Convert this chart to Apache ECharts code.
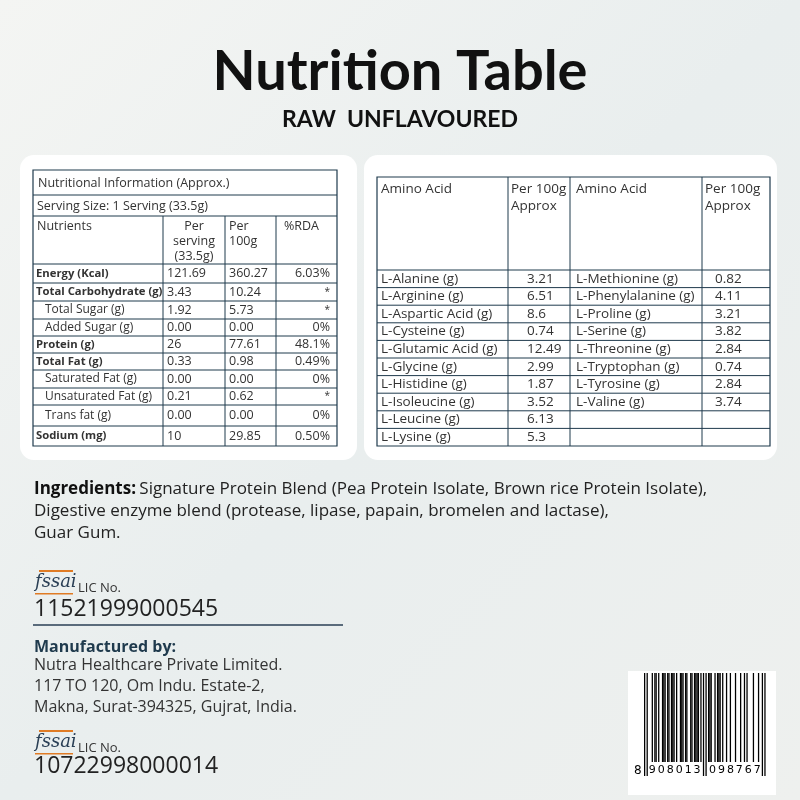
<!DOCTYPE html>
<html>
<head>
<meta charset="utf-8">
<script src="https://cdn.jsdelivr.net/npm/echarts@6/dist/echarts.min.js"></script>
<style>html,body{margin:0;padding:0;}#main{width:800px;height:800px;}</style>
</head>
<body>
<div id="main"></div>
<script>
var nutrients = ['Energy (Kcal)', 'Total Carbohydrate (g)', 'Total Sugar (g)', 'Added Sugar (g)', 'Protein (g)', 'Total Fat (g)', 'Saturated Fat (g)', 'Unsaturated Fat (g)', 'Trans fat (g)', 'Sodium (mg)'];
var boldRows = [true, true, false, false, true, true, false, false, false, true];
var perServing = ['121.69', '3.43', '1.92', '0.00', '26', '0.33', '0.00', '0.21', '0.00', '10'];
var per100g = ['360.27', '10.24', '5.73', '0.00', '77.61', '0.98', '0.00', '0.62', '0.00', '29.85'];
var rda = ['6.03%', '*', '*', '0%', '48.1%', '0.49%', '0%', '*', '0%', '0.50%'];

var aminoLeft = ['L-Alanine (g)', 'L-Arginine (g)', 'L-Aspartic Acid (g)', 'L-Cysteine (g)', 'L-Glutamic Acid (g)', 'L-Glycine (g)', 'L-Histidine (g)', 'L-Isoleucine (g)', 'L-Leucine (g)', 'L-Lysine (g)'];
var aminoLeftVal = ['3.21', '6.51', '8.6', '0.74', '12.49', '2.99', '1.87', '3.52', '6.13', '5.3'];
var aminoRight = ['L-Methionine (g)', 'L-Phenylalanine (g)', 'L-Proline (g)', 'L-Serine (g)', 'L-Threonine (g)', 'L-Tryptophan (g)', 'L-Tyrosine (g)', 'L-Valine (g)', '', ''];
var aminoRightVal = ['0.82', '4.11', '3.21', '3.82', '2.84', '0.74', '2.84', '3.74', '', ''];

var barcodeDigits = '8908013098767';

var FONT = 'Open Sans';
var INK = '#1f3a4d';
var g = [];

function txt(x, y, s, size, opt) {
	opt = opt || {};
	g.push({
		type: 'text', x: x, y: y,
		style: {
			text: s, fill: opt.fill || '#222', fontSize: size, fontFamily: opt.font || FONT,
			fontWeight: opt.weight || 'normal', fontStyle: opt.style || 'normal',
			align: opt.align || 'left', verticalAlign: opt.va || 'top',
			lineHeight: opt.lh || size * 1.2
		}
	});
}
function line(x1, y1, x2, y2, w, c) {
	g.push({ type: 'line', shape: { x1: x1, y1: y1, x2: x2, y2: y2 }, style: { stroke: c || INK, lineWidth: w || 1 } });
}

// background + cards
g.push({ type: 'rect', shape: { x: 0, y: 0, width: 800, height: 800 }, style: { fill: new echarts.graphic.LinearGradient(0, 0, 1, 1, [{ offset: 0, color: '#f4f5f3' }, { offset: 0.5, color: '#e9eeee' }, { offset: 1, color: '#eef0ee' }]) } });
g.push({ type: 'rect', shape: { x: 20, y: 155, width: 337, height: 305, r: 14 }, style: { fill: '#fff' } });
g.push({ type: 'rect', shape: { x: 364, y: 155, width: 413, height: 305, r: 14 }, style: { fill: '#fff' } });

txt(400, 38, 'Nutrition Table', 56, { align: 'center', weight: 'bold', fill: '#111', font: 'Lato' });
txt(400, 106, 'RAW  UNFLAVOURED', 23, { align: 'center', weight: 'bold', fill: '#111', font: 'Lato' });

// left table
var L = [33, 163, 225, 276, 337];
var rowY = [264, 283, 301, 319, 336, 353, 370, 388, 405, 426, 446];
g.push({ type: 'rect', shape: { x: 33, y: 170, width: 304, height: 276 }, style: { fill: 'none', stroke: INK, lineWidth: 1.2 } });
line(33, 195, 337, 195); line(33, 216, 337, 216);
rowY.slice(0, -1).forEach(function (y) { line(33, y, 337, y); });
[1, 2, 3].forEach(function (i) { line(L[i], 216, L[i], 446); });
txt(38, 183, 'Nutritional Information (Approx.)', 12.5, { va: 'middle', fill: '#333' });
txt(37, 206, 'Serving Size: 1 Serving (33.5g)', 12.5, { va: 'middle', fill: '#333' });
txt(37, 219, 'Nutrients', 12.5, { fill: '#333' });
txt(194, 219, 'Per\nserving\n(33.5g)', 12.5, { align: 'center', fill: '#333', lh: 15 });
txt(229, 219, 'Per\n100g', 12.5, { fill: '#333', lh: 15 });
txt(284, 219, '%RDA', 12.5, { fill: '#333' });
nutrients.forEach(function (n, i) {
	var cy = (rowY[i] + rowY[i + 1]) / 2;
	var b = boldRows[i];
	txt(b ? 36 : 45, cy, n, b ? 11.3 : 12, { va: 'middle', weight: b ? 'bold' : 'normal', fill: '#333' });
	txt(167, cy, perServing[i], 12.5, { va: 'middle', fill: '#333' });
	txt(229, cy, per100g[i], 12.5, { va: 'middle', fill: '#333' });
	txt(330, cy, rda[i], rda[i] === '*' ? 10 : 12.5, { va: 'middle', align: 'right', fill: '#333' });
});

// right table
var R = [377, 508, 570, 702, 770];
var tblTop = 177, hdr = 270, bot = 446, rh = (bot - hdr) / aminoLeft.length;
g.push({ type: 'rect', shape: { x: 377, y: tblTop, width: 393, height: bot - tblTop }, style: { fill: 'none', stroke: INK, lineWidth: 1.2 } });
[1, 2, 3].forEach(function (i) { line(R[i], tblTop, R[i], bot); });
for (var k = 0; k < aminoLeft.length; k++) line(377, hdr + k * rh, 770, hdr + k * rh);
txt(381, 181, 'Amino Acid', 13.5, { fill: '#333' });
txt(511, 181, 'Per 100g\nApprox', 13.5, { fill: '#333', lh: 17 });
txt(576, 181, 'Amino Acid', 13.5, { fill: '#333' });
txt(705, 181, 'Per 100g\nApprox', 13.5, { fill: '#333', lh: 17 });
aminoLeft.forEach(function (n, i) {
	var cy = hdr + (i + 0.5) * rh;
	txt(381, cy, n, 13.5, { va: 'middle', fill: '#333' });
	txt(527, cy, aminoLeftVal[i], 13.5, { va: 'middle', fill: '#333' });
	txt(576, cy, aminoRight[i], 13.5, { va: 'middle', fill: '#333' });
	txt(715, cy, aminoRightVal[i], 13.5, { va: 'middle', fill: '#333' });
});

// ingredients
g.push({
	type: 'text', x: 34, y: 478,
	style: {
		rich: { b: { fontWeight: 'bold', fontSize: 17, fontFamily: FONT, fill: '#111' }, n: { fontSize: 17, fontFamily: FONT, fill: '#222' } },
		text: '{b|Ingredients:} {n|Signature Protein Blend (Pea Protein Isolate, Brown rice Protein Isolate),}\n{n|Digestive enzyme blend (protease, lipase, papain, bromelen and lactase),}\n{n|Guar Gum.}',
		lineHeight: 22
	}
});

function fssai(x, y) {
	txt(x, y, 'fssai', 18, { font: 'DejaVu Serif', style: 'italic', fill: '#2a3f55' });
	g.push({ type: 'rect', shape: { x: x + 4, y: y - 2, width: 34, height: 2 }, style: { fill: '#e07b24' } });
	g.push({ type: 'rect', shape: { x: x, y: y + 21, width: 38, height: 1.5 }, style: { fill: '#e07b24' } });
	txt(x + 43, y + 8, 'LIC No.', 13, { fill: '#333' });
}
fssai(35, 572);
txt(34, 596, '11521999000545', 23, { fill: '#222' });
line(33, 625, 343, 625, 1.5, '#2a3f55');
txt(34, 638, 'Manufactured by:', 16, { weight: 'bold', fill: '#1f3a4d' });
txt(34, 655, 'Nutra Healthcare Private Limited.\n117 TO 120, Om Indu. Estate-2,\nMakna, Surat-394325, Gujrat, India.', 16, { fill: '#333', lh: 21 });
fssai(35, 732);
txt(34, 753, '10722998000014', 23, { fill: '#222' });

// barcode (EAN-13 encoding of barcodeDigits)
var Lc = ['0001101', '0011001', '0010011', '0111101', '0100011', '0110001', '0101111', '0111011', '0110111', '0001011'];
var Gc = ['0100111', '0110011', '0011011', '0100001', '0011101', '0111001', '0000101', '0010001', '0001001', '0010111'];
var Rc = ['1110010', '1100110', '1101100', '1000010', '1011100', '1001110', '1010000', '1000100', '1001000', '1110100'];
var parity = ['LLLLLL', 'LLGLGG', 'LLGGLG', 'LLGGGL', 'LGLLGG', 'LGGLLG', 'LGGGLL', 'LGLGLG', 'LGLGGL', 'LGGLGL'];
var d = barcodeDigits.split('').map(Number);
var bits = '101';
for (var i = 1; i <= 6; i++) bits += (parity[d[0]][i - 1] === 'L' ? Lc : Gc)[d[i]];
var mid = bits.length; bits += '01010';
for (i = 7; i <= 12; i++) bits += Rc[d[i]];
var end = bits.length; bits += '101';
g.push({ type: 'rect', shape: { x: 628, y: 671, width: 148, height: 124 }, style: { fill: '#fff' } });
var bx = 644, mw = 1.28;
for (i = 0; i < bits.length; i++) {
	if (bits[i] !== '1') continue;
	var isG = i < 3 || (i >= mid && i < mid + 5) || i >= end;
	g.push({ type: 'rect', shape: { x: bx + i * mw, y: 673, width: mw, height: isG ? 103 : 89 }, style: { fill: '#000' } });
}
txt(634, 764, barcodeDigits[0], 12, { fill: '#000', font: 'DejaVu Sans' });
for (i = 1; i <= 12; i++) {
	var start = i <= 6 ? 3 + (i - 1) * 7 : mid + 5 + (i - 7) * 7;
	txt(bx + (start + 3.5) * mw, 764, barcodeDigits[i], 11, { fill: '#000', font: 'DejaVu Sans', align: 'center' });
}

var chart = echarts.init(document.getElementById('main'));
chart.setOption({ animation: false, graphic: { elements: g } });
</script>
</body>
</html>
